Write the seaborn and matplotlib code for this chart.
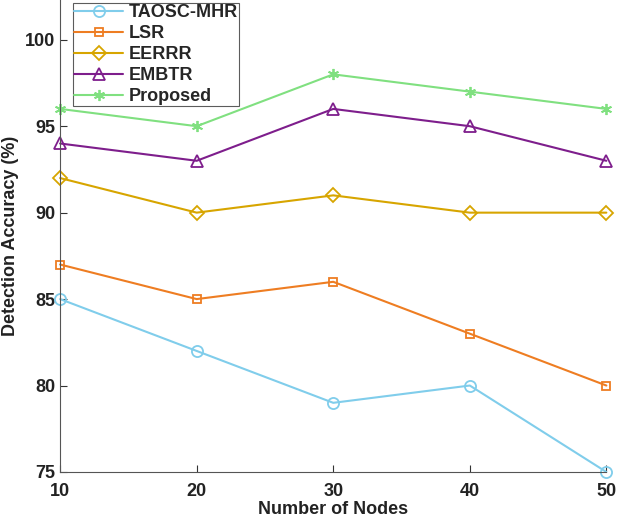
import numpy as np
import pandas as pd
import seaborn as sns
from matplotlib import pyplot as plt

nodes = [10, 20, 30, 40, 50]
taosc_mhr = [85, 82, 79, 80, 75]
lsr = [87, 85, 86, 83, 80]
eerrr = [92, 90, 91, 90, 90]
embtr = [94, 93, 96, 95, 93]
proposed = [96, 95, 98, 97, 96]

names = ['TAOSC-MHR', 'LSR', 'EERRR', 'EMBTR', 'Proposed']
series = [taosc_mhr, lsr, eerrr, embtr, proposed]
colours = ['#80CDEB', '#EE7D22', '#D7A500', '#7E1E8C', '#80E080']
markers = ['o', 's', 'D', '^', (6, 2, 0)]
msizes = [8, 6, 7, 9, 8]

sns.set_theme(style='ticks')
plt.rcParams['font.family'] = ['Liberation Sans', 'DejaVu Sans']
plt.rcParams['font.weight'] = 'bold'

fig = plt.figure(figsize=(6.2, 5.25), dpi=100)
ax = fig.add_axes([0.097, 0.101, 0.881, 0.899])

for name, vals, col, mk, ms in zip(names, series, colours, markers, msizes):
    df = pd.DataFrame({'Nodes': nodes, 'Accuracy': vals})
    sns.lineplot(data=df, x='Nodes', y='Accuracy', ax=ax, color=col, marker=mk,
                 markersize=ms, mfc='none', mec=col, mew=1.3, linewidth=1.5, label=name,
                 clip_on=False)

ax.set_xlim(10, 50)
ax.set_ylim(75, 102.3)
ax.set_xticks(nodes)
ax.set_yticks([75, 80, 85, 90, 95, 100])
ax.tick_params(direction='in', length=5, width=0.8, colors='#333333', labelsize=13,
               labelcolor='#222222')
ax.tick_params(axis='x', pad=8)
for lbl in ax.get_xticklabels() + ax.get_yticklabels():
    lbl.set_fontweight('bold')
for side in ['top', 'right']:
    ax.spines[side].set_visible(False)
for side in ['left', 'bottom']:
    ax.spines[side].set_color('#555555')
    ax.spines[side].set_linewidth(0.8)

ax.set_xlabel('Number of Nodes', fontsize=13, fontweight='bold', color='#222222', labelpad=1)
ax.set_ylabel('Detection Accuracy (%)', fontsize=13, fontweight='bold', color='#222222', labelpad=4)

leg = ax.legend(loc='lower left', bbox_to_anchor=(0.024, 0.775), borderaxespad=0,
                frameon=True, fancybox=False, edgecolor='#333333', fontsize=13,
                handlelength=2.7, borderpad=0.05, labelspacing=0.22, handletextpad=0.35)
leg.get_frame().set_linewidth(0.8)
for t in leg.get_texts():
    t.set_fontweight('bold')

fig.savefig('out.png', dpi=100)
